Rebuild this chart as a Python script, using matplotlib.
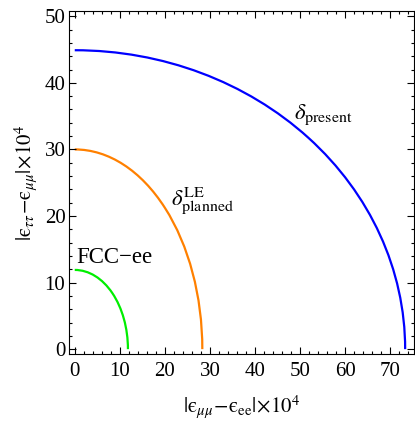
import matplotlib
matplotlib.use("Agg")
import matplotlib.pyplot as plt
from matplotlib.patches import Arc
from matplotlib.ticker import MultipleLocator

plt.rcParams['font.family'] = ['Liberation Serif', 'DejaVu Serif']
plt.rcParams['mathtext.fontset'] = 'stix'

# data: semi-axes of the quarter-ellipse bounds (x: |e_mumu - e_ee|, y: |e_tautau - e_mumu|) x 1e4
names = ["present", "planned", "FCC-ee"]
semi_x = [73.3, 28.3, 11.8]
semi_y = [44.9, 30.0, 11.9]
colors = ["#0000FF", "#FF8000", "#00EE00"]
labels = [r"$\delta_{\rm present}$", r"$\delta^{\rm LE}_{\rm planned}$", "FCC\u2212ee"]
label_pos = [(48.6, 35.2), (21.3, 22.3), (0.4, 13.7)]

fig = plt.figure(figsize=(4.15, 4.21), dpi=100)
ax = fig.add_axes([0.166, 0.158, 0.832, 0.816])

for a, b, c in zip(semi_x, semi_y, colors):
    ax.add_patch(Arc((0, 0), 2 * a, 2 * b, theta1=0, theta2=90, color=c, lw=1.6))

for (x, y), t in zip(label_pos, labels):
    ax.text(x, y, t, fontsize=16.5, ha="left", va="center")

ax.set_xlim(-1.3, 75.3)
ax.set_ylim(-0.8, 50.8)
ax.xaxis.set_major_locator(MultipleLocator(10))
ax.xaxis.set_minor_locator(MultipleLocator(2))
ax.yaxis.set_major_locator(MultipleLocator(10))
ax.yaxis.set_minor_locator(MultipleLocator(2))
ax.tick_params(which="both", direction="in", top=True, right=True, labelsize=15, width=0.8)
ax.tick_params(which="major", length=5)
ax.tick_params(which="minor", length=2.5)
ax.tick_params(axis="x", which="both", pad=5.5)
ax.tick_params(axis="y", which="both", pad=2.5)
for s in ax.spines.values():
    s.set_linewidth(0.8)

eps = "\u03f5"
ax.set_xlabel(r"$|\mathrm{%s}_{\mu\mu}\!-\!\mathrm{%s}_{\rm ee}|\!\times\!10^4$" % (eps, eps), fontsize=15, labelpad=8.5)
ax.set_ylabel(r"$|\mathrm{%s}_{\tau\tau}\!-\!\mathrm{%s}_{\mu\mu}|\!\times\!10^4$" % (eps, eps), fontsize=15, labelpad=3)

fig.savefig("out.png", dpi=100)
